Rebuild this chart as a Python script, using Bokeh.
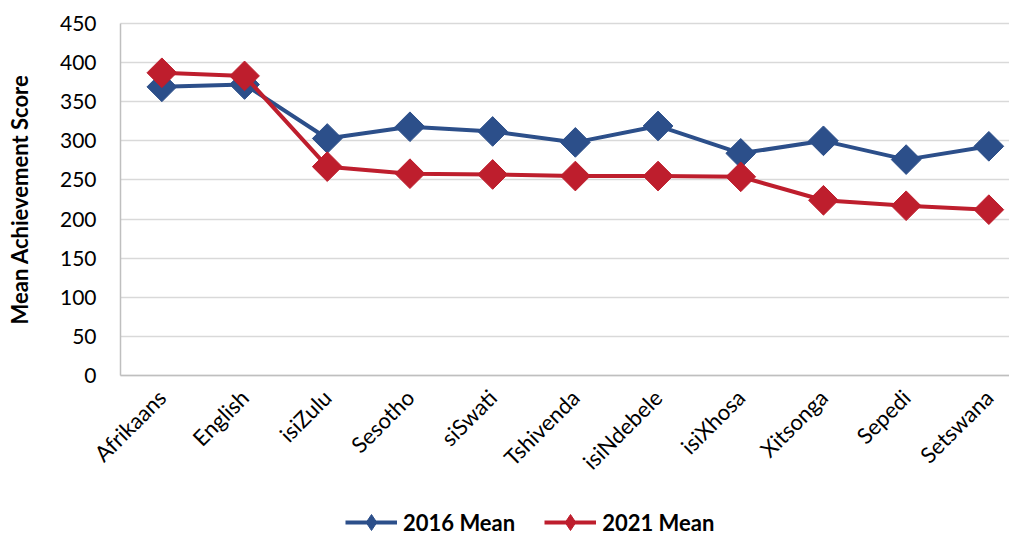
import math
from bokeh.plotting import figure
from bokeh.models import Legend, LegendItem, FixedTicker, Range1d
from bokeh.embed import file_html
from bokeh.resources import INLINE

languages = ["Afrikaans", "English", "isiZulu", "Sesotho", "siSwati", "Tshivenda",
             "isiNdebele", "isiXhosa", "Xitsonga", "Sepedi", "Setswana"]
mean_2016 = [369, 372, 303, 318, 312, 298, 319, 284, 300, 276, 293]
mean_2021 = [387, 383, 267, 258, 257, 255, 255, 254, 224, 217, 212]
y_ticks = [0, 50, 100, 150, 200, 250, 300, 350, 400, 450]

BLUE = "#2C4F8A"
RED = "#BE1E2D"
FONT = "Lato"

# layout (pixels)
W, H = 1009, 534
PLOT_LEFT, PLOT_TOP, ZERO_PX = 120, 23, 375
CAT_STEP = 82.7

y_top = y_ticks[-1]
yscale = (ZERO_PX - PLOT_TOP) / y_top
y_start = -(H - ZERO_PX) / yscale
y_end = y_top + PLOT_TOP / yscale
x_left = -0.5
x_start = x_left - PLOT_LEFT / CAT_STEP
x_end = x_left + (W - PLOT_LEFT) / CAT_STEP

x = list(range(len(languages)))

p = figure(width=W, height=H, output_backend="svg", toolbar_location=None,
           x_range=Range1d(x_start, x_end), y_range=Range1d(y_start, y_end),
           min_border=0)
p.outline_line_color = None
p.background_fill_color = "white"

p.xgrid.grid_line_color = None
p.ygrid.grid_line_color = "#D9D9D9"
p.ygrid.grid_line_width = 1.5
p.ygrid.cross_bounds = (x_left, x_end)

p.yaxis.ticker = FixedTicker(ticks=y_ticks)
p.yaxis.bounds = (0, y_top)
p.yaxis.fixed_location = x_left
p.xaxis.ticker = FixedTicker(ticks=x)
p.xaxis.bounds = (x_left, x_end)
p.xaxis.major_label_overrides = {i: lab for i, lab in enumerate(languages)}
p.xaxis.fixed_location = 0

for ax in (p.xaxis[0], p.yaxis[0]):
    ax.axis_line_color = "#BFBFBF"
    ax.axis_line_width = 1.5
    ax.major_tick_line_color = None
    ax.minor_tick_line_color = None
    ax.major_label_text_font = FONT
    ax.major_label_text_color = "#000000"

p.xaxis.major_label_text_font_size = "22px"
p.yaxis.major_label_text_font_size = "21px"
p.xaxis.major_label_orientation = math.pi / 4
p.xaxis.major_label_standoff = 12
p.yaxis.major_label_standoff = 18
p.yaxis.axis_label = "Mean Achievement Score"
p.yaxis.axis_label_text_font = FONT
p.yaxis.axis_label_text_font_style = "bold"
p.yaxis.axis_label_text_font_size = "22px"
p.yaxis.axis_label_text_color = "#000000"
p.yaxis.axis_label_standoff = 24

l16 = p.line(x, mean_2016, line_color=BLUE, line_width=4)
s16 = p.scatter(x, mean_2016, marker="square", size=21, angle=math.pi / 4,
                fill_color=BLUE, line_color=BLUE)
l21 = p.line(x, mean_2021, line_color=RED, line_width=4)
s21 = p.scatter(x, mean_2021, marker="square", size=21, angle=math.pi / 4,
                fill_color=RED, line_color=RED)

# legend-only diamond markers: zero-size in the plot, drawn only in the legend
d16 = p.scatter(x, mean_2016, marker="diamond", size=0, fill_color=BLUE, line_color=BLUE)
d21 = p.scatter(x, mean_2021, marker="diamond", size=0, fill_color=RED, line_color=RED)

legend = Legend(items=[LegendItem(label="2016 Mean", renderers=[l16, d16]),
                       LegendItem(label="2021 Mean", renderers=[l21, d21])],
                location=(345, -8), orientation="horizontal",
                padding=0, margin=0, spacing=29, label_standoff=6,
                glyph_width=52, glyph_height=40,
                label_text_font=FONT, label_text_font_style="bold",
                label_text_font_size="22px", label_text_color="#000000",
                border_line_color=None, background_fill_alpha=0)
p.add_layout(legend, "center")

open("out.html", "w").write(file_html(p, INLINE))
